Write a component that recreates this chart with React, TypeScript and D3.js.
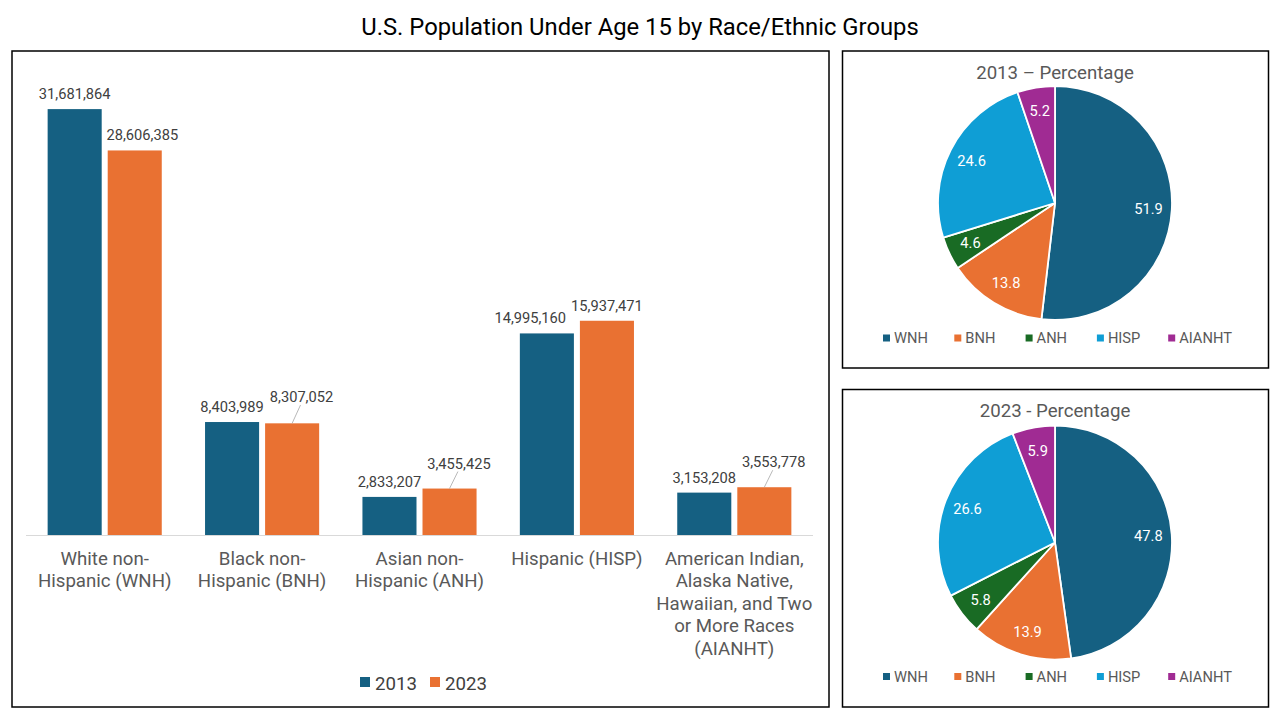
import React, { useEffect, useRef } from 'react';
import * as d3 from 'd3';

// --- data ---
const categories = ['WNH', 'BNH', 'ANH', 'HISP', 'AIANHT'];
const categoryLabels = [
  ['White non-', 'Hispanic (WNH)'],
  ['Black non-', 'Hispanic (BNH)'],
  ['Asian non-', 'Hispanic (ANH)'],
  ['Hispanic (HISP)'],
  ['American Indian,', 'Alaska Native,', 'Hawaiian, and Two', 'or More Races', '(AIANHT)'],
];
const years = ['2013', '2023'];
const pop2013 = [31681864, 8403989, 2833207, 14995160, 3153208];
const pop2023 = [28606385, 8307052, 3455425, 15937471, 3553778];
const pct2013 = [51.9, 13.8, 4.6, 24.6, 5.2];
const pct2023 = [47.8, 13.9, 5.8, 26.6, 5.9];

const yearColors = ['#156082', '#E97132'];
const sliceColors = ['#156082', '#E97132', '#196B24', '#0F9ED5', '#A02B93'];
const FONT = 'Roboto, "Noto Sans", sans-serif';

const App: React.FC = () => {
  const svgRef = useRef<SVGSVGElement>(null);

  useEffect(() => {
    if (!svgRef.current) return;
    const svg = d3.select(svgRef.current);
    svg.selectAll('*').remove();

    svg.append('rect').attr('width', 1280).attr('height', 720).attr('fill', 'white');

    // title
    svg.append('text')
      .attr('x', 640).attr('y', 34.5)
      .attr('text-anchor', 'middle')
      .style('font-family', FONT).style('font-size', '23.8px').attr('fill', '#000')
      .text('U.S. Population Under Age 15 by Race/Ethnic Groups');

    // panel frames
    const frames = [
      { x: 12, y: 51, w: 817, h: 656 },
      { x: 842.5, y: 51, w: 426, h: 317 },
      { x: 842.5, y: 389.5, w: 426, h: 317.5 },
    ];
    svg.selectAll('rect.frame').data(frames).enter().append('rect')
      .attr('class', 'frame')
      .attr('x', d => d.x).attr('y', d => d.y).attr('width', d => d.w).attr('height', d => d.h)
      .attr('fill', 'none').attr('stroke', '#000').attr('stroke-width', 1.5);

    // ---------- bar chart ----------
    const baseY = 535;
    const x0 = d3.scaleBand<string>().domain(categories).range([26, 813]).paddingInner(0.275).paddingOuter(0.1375);
    const x1 = d3.scaleBand<string>().domain(years).range([0, x0.bandwidth()]).paddingInner(0.1);
    const y = d3.scaleLinear().domain([0, 35000000]).range([baseY, 64.5]);

    const series = [pop2013, pop2023];
    const g = svg.append('g');

    categories.forEach((cat, ci) => {
      const grp = g.append('g').attr('transform', `translate(${x0(cat)},0)`);
      years.forEach((yr, si) => {
        const v = series[si][ci];
        grp.append('rect')
          .attr('x', x1(yr)!).attr('y', y(v))
          .attr('width', x1.bandwidth()).attr('height', baseY - y(v))
          .attr('fill', yearColors[si]);
      });
    });

    // axis line
    g.append('line')
      .attr('x1', x0.range()[0]).attr('x2', x0.range()[1])
      .attr('y1', baseY + 0.5).attr('y2', baseY + 0.5)
      .attr('stroke', '#d9d9d9').attr('stroke-width', 1);

    // data labels with a simple overlap resolver
    const fmt = d3.format(',');
    categories.forEach((cat, ci) => {
      const labels = years.map((yr, si) => {
        const v = series[si][ci];
        const cx = x0(cat)! + x1(yr)! + x1.bandwidth() / 2;
        const t = g.append('text')
          .attr('text-anchor', 'middle')
          .style('font-family', FONT).style('font-size', '14.67px').attr('fill', '#404040')
          .text(fmt(v));
        const w = (t.node() as SVGTextElement).getComputedTextLength();
        return { t, cx, top: y(v), x: cx, cy: y(v) - 15, w };
      });
      const [a, b] = labels;
      const overlap = (a.x + a.w / 2) - (b.x - b.w / 2);
      const dyGap = a.cy - b.cy;
      let leader = false;
      if (overlap > -3 && Math.abs(dyGap) < 16) {
        if (dyGap >= 12) {
          a.x -= overlap + 5;
        } else {
          b.x += overlap + 6;
          b.cy = Math.min(b.cy, a.cy) - 10;
          leader = true;
        }
      } else if (overlap > 4) {
        // lower label sits under the taller bar's label: slide it a little
        b.x += overlap - 4;
      }
      labels.forEach(l => l.t.attr('x', l.x).attr('y', l.cy + 5));
      if (leader) {
        g.append('line')
          .attr('x1', b.x - 1).attr('y1', b.cy + 8)
          .attr('x2', b.cx).attr('y2', b.top)
          .attr('stroke', '#a6a6a6').attr('stroke-width', 0.8);
      }
    });

    // category labels
    categories.forEach((cat, ci) => {
      const t = g.append('text')
        .attr('text-anchor', 'middle')
        .style('font-family', FONT).style('font-size', '18.67px').attr('fill', '#595959');
      categoryLabels[ci].forEach((line, li) => {
        t.append('tspan')
          .attr('x', x0(cat)! + x0.bandwidth() / 2)
          .attr('y', 564.5 + li * 22.5)
          .text(line);
      });
    });

    // bar legend
    const legend = g.append('g');
    years.forEach((yr, i) => {
      const lx = 360 + i * 70;
      legend.append('rect').attr('x', lx).attr('y', 677).attr('width', 10).attr('height', 10).attr('fill', yearColors[i]);
      legend.append('text')
        .attr('x', lx + 15).attr('y', 689.5)
        .style('font-family', FONT).style('font-size', '18.67px').attr('fill', '#404040')
        .text(yr);
    });

    // ---------- pies ----------
    const pies = [
      { title: '2013 \u2013 Percentage', values: pct2013, cy: 203, top: 51 },
      { title: '2023 - Percentage', values: pct2023, cy: 542.5, top: 389.5 },
    ];
    const r = 117;
    const pie = d3.pie<number>().sort(null).value(d => d);
    const arc = d3.arc<d3.PieArcDatum<number>>().innerRadius(0).outerRadius(r);
    const labelArc = d3.arc<d3.PieArcDatum<number>>().innerRadius(r * 0.8).outerRadius(r * 0.8);

    pies.forEach(p => {
      const pg = svg.append('g').attr('transform', `translate(1055,${p.cy})`);
      const arcs = pie(p.values);
      pg.selectAll('path').data(arcs).enter().append('path')
        .attr('d', arc)
        .attr('fill', (_, i) => sliceColors[i])
        .attr('stroke', '#fff').attr('stroke-width', 1.8).attr('stroke-linejoin', 'round');
      pg.selectAll('text').data(arcs).enter().append('text')
        .attr('transform', d => `translate(${labelArc.centroid(d)})`)
        .attr('text-anchor', 'middle').attr('dy', '0.35em')
        .style('font-family', FONT).style('font-size', '14.67px').attr('fill', '#fff')
        .text(d => d.data.toFixed(1));

      svg.append('text')
        .attr('x', 1055).attr('y', p.top + 27.5)
        .attr('text-anchor', 'middle')
        .style('font-family', FONT).style('font-size', '18.67px').attr('fill', '#595959')
        .text(p.title);

      const ly = p.top + 287;
      categories.forEach((c, i) => {
        const lx = 883 + i * 71.3;
        svg.append('rect').attr('x', lx).attr('y', ly - 3.5).attr('width', 7).attr('height', 7).attr('fill', sliceColors[i]);
        svg.append('text')
          .attr('x', lx + 11).attr('y', ly + 5)
          .style('font-family', FONT).style('font-size', '14.67px').attr('fill', '#595959')
          .text(c);
      });
    });
  }, []);

  return (
    <div style={{ position: 'fixed', left: 0, top: 0 }}>
      <svg ref={svgRef} width={1280} height={720} style={{ display: 'block' }} />
    </div>
  );
};

export default App;
